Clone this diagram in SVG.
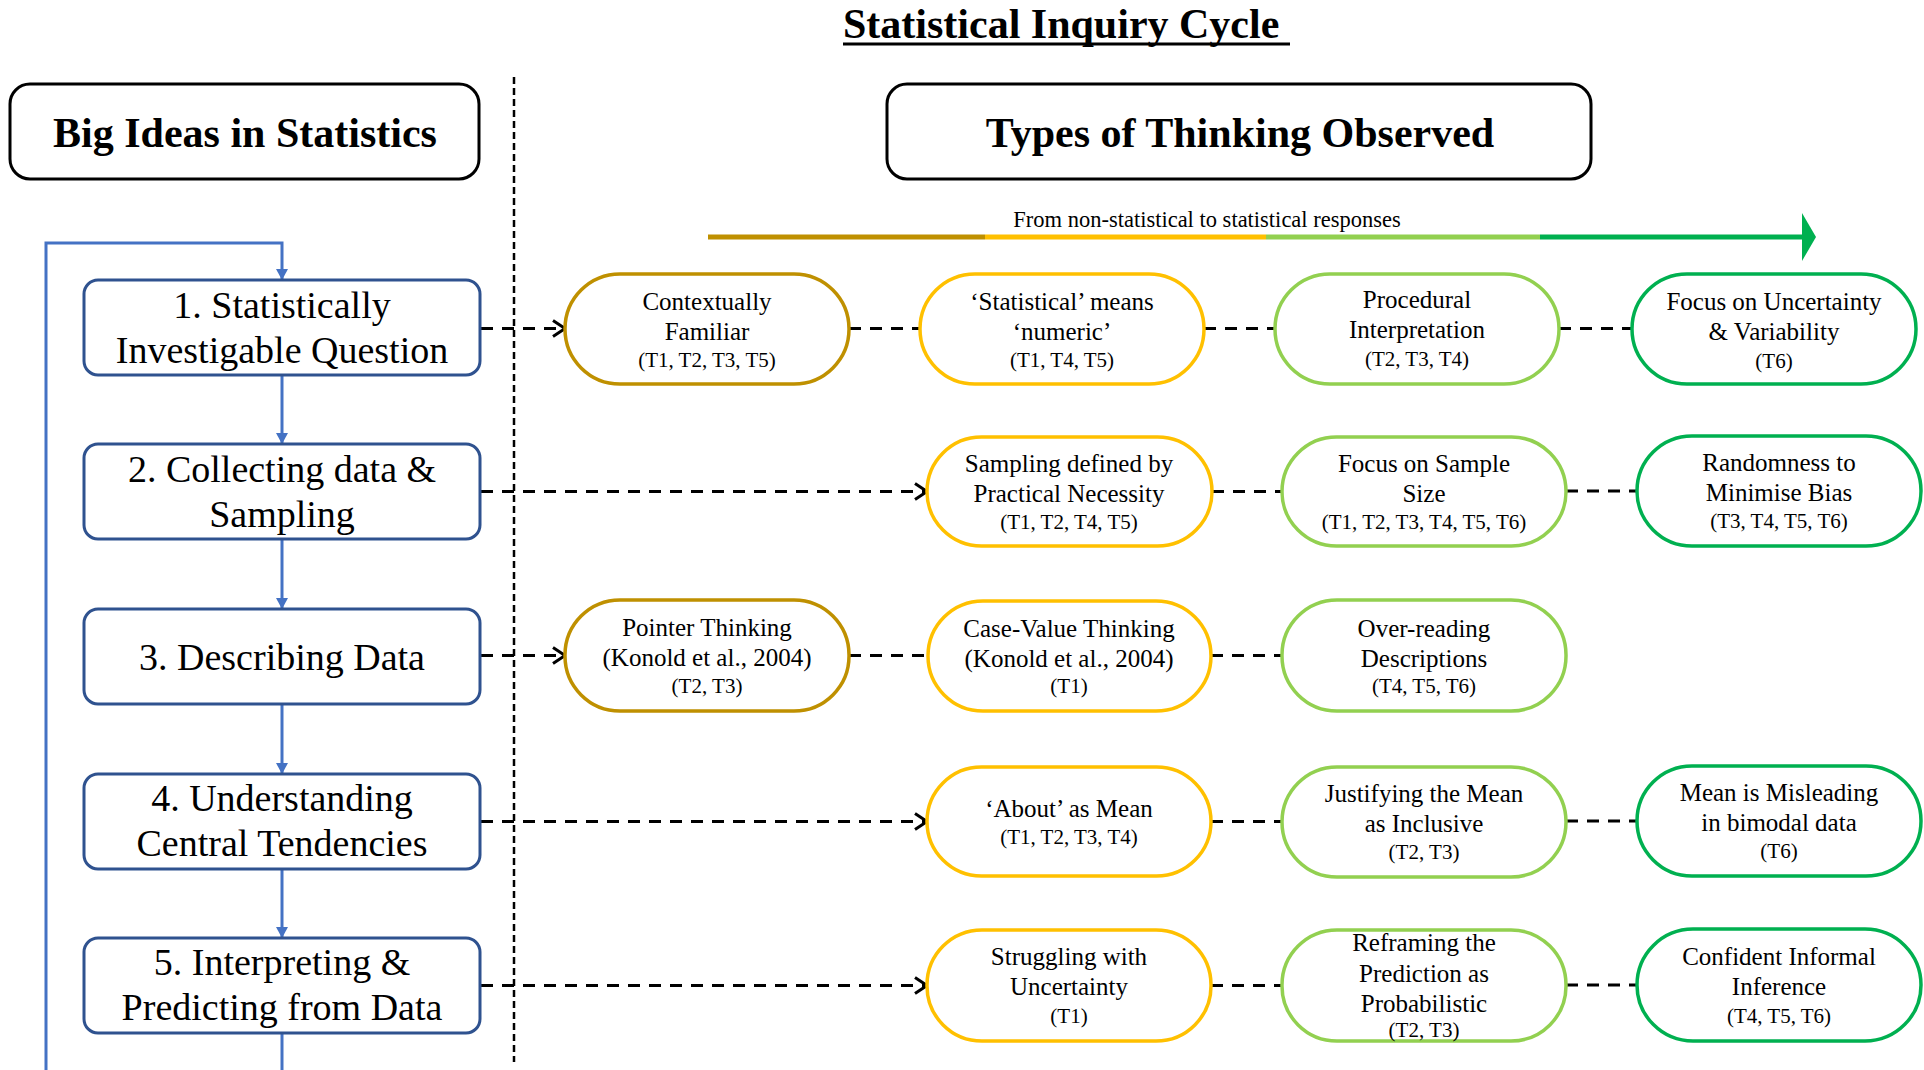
<svg xmlns="http://www.w3.org/2000/svg" width="1924" height="1070" viewBox="0 0 1924 1070">
<style>
text { font-family: "Liberation Serif", "Times New Roman", serif; fill:#000; }
.hdr { font-size:42px; font-weight:bold; text-anchor:middle; }
.title { font-size:42px; font-weight:bold; }
.sub { font-size:22.5px; text-anchor:middle; }
.step text { font-size:38px; text-anchor:middle; }
.pill text { font-size:25px; text-anchor:middle; }
.pill text.codes { font-size:21px; }
.bigbox { fill:#fff; stroke:#000; stroke-width:3; }
.stepbox { fill:#fff; stroke:#2F528F; stroke-width:3; }
.pill rect { fill:#fff; stroke-width:3.5; }
.cA rect { stroke:#BF9000; }
.cB rect { stroke:#FFC000; }
.cC rect { stroke:#92D050; }
.cD rect { stroke:#00B050; }
.dash { stroke:#000; stroke-width:3; stroke-dasharray:12 9; fill:none; }
.blue { stroke:#4472C4; stroke-width:3; fill:none; }
</style>
<defs>
<marker id="chev" markerUnits="userSpaceOnUse" viewBox="0 0 16 20" markerWidth="16" markerHeight="20" refX="14" refY="10" orient="auto">
<path d="M2,2 L14,10 L2,18" fill="none" stroke="#000" stroke-width="3" stroke-dasharray="none"/>
</marker>
<marker id="tri" markerUnits="userSpaceOnUse" viewBox="0 0 11 12" markerWidth="11" markerHeight="12" refX="11" refY="6" orient="auto">
<path d="M0,0 L11,6 L0,12 z" fill="#4472C4"/>
</marker>
</defs>
<rect width="1924" height="1070" fill="#fff"/>

<g id="title">
<text class="title" x="843" y="38">Statistical Inquiry Cycle</text>
<line x1="843" y1="44" x2="1290" y2="44" stroke="#000" stroke-width="3"/>
</g>

<g id="big-ideas">
<rect class="bigbox" x="10" y="84" width="469" height="95" rx="20"/>
<text class="hdr" x="245" y="147">Big Ideas in Statistics</text>
</g>

<g id="types-of-thinking">
<rect class="bigbox" x="887" y="84" width="704" height="95" rx="20"/>
<text class="hdr" x="1240" y="147">Types of Thinking Observed</text>
</g>

<g id="divider">
<line x1="514" y1="77" x2="514" y2="1062" stroke="#000" stroke-width="2.5" stroke-dasharray="7 4"/>
</g>

<g id="progress-scale">
<text class="sub" x="1207" y="227">From non-statistical to statistical responses</text>
<rect x="708" y="234.5" width="277" height="5" fill="#BF9000"/>
<rect x="985" y="234.5" width="281" height="5" fill="#FFC000"/>
<rect x="1266" y="234.5" width="274" height="5" fill="#92D050"/>
<rect x="1540" y="234.5" width="265" height="5" fill="#00B050"/>
<path d="M1802,213 L1816,237 L1802,261 z" fill="#00B050"/>
</g>

<g id="connectors">
<!-- blue cycle -->
<path class="blue" d="M46,1070 L46,243 L282,243 L282,280" marker-end="url(#tri)"/>
<line class="blue" x1="282" y1="375" x2="282" y2="444" marker-end="url(#tri)"/>
<line class="blue" x1="282" y1="539" x2="282" y2="609" marker-end="url(#tri)"/>
<line class="blue" x1="282" y1="704" x2="282" y2="774" marker-end="url(#tri)"/>
<line class="blue" x1="282" y1="869" x2="282" y2="938" marker-end="url(#tri)"/>
<line class="blue" x1="282" y1="1033" x2="282" y2="1070"/>
<!-- row 1 -->
<line class="dash" x1="481" y1="328.5" x2="565" y2="328.5" marker-end="url(#chev)"/>
<line class="dash" x1="849" y1="328.5" x2="920" y2="328.5"/>
<line class="dash" x1="1204" y1="328.5" x2="1275" y2="328.5"/>
<line class="dash" x1="1559" y1="328.5" x2="1632" y2="328.5"/>
<!-- row 2 -->
<line class="dash" x1="481" y1="491.5" x2="927" y2="491.5" marker-end="url(#chev)"/>
<line class="dash" x1="1212" y1="491.5" x2="1282" y2="491.5"/>
<line class="dash" x1="1566" y1="491" x2="1637" y2="491"/>
<!-- row 3 -->
<line class="dash" x1="481" y1="655.5" x2="565" y2="655.5" marker-end="url(#chev)"/>
<line class="dash" x1="849" y1="655.5" x2="928" y2="655.5"/>
<line class="dash" x1="1211" y1="655.5" x2="1282" y2="655.5"/>
<!-- row 4 -->
<line class="dash" x1="481" y1="821.5" x2="927" y2="821.5" marker-end="url(#chev)"/>
<line class="dash" x1="1211" y1="821.5" x2="1282" y2="821.5"/>
<line class="dash" x1="1566" y1="821" x2="1637" y2="821"/>
<!-- row 5 -->
<line class="dash" x1="481" y1="985.5" x2="927" y2="985.5" marker-end="url(#chev)"/>
<line class="dash" x1="1211" y1="985.5" x2="1282" y2="985.5"/>
<line class="dash" x1="1566" y1="985" x2="1637" y2="985"/>
</g>

<g id="step1" class="step">
<rect class="stepbox" x="84" y="280" width="396" height="95" rx="14"/>
<text x="282" y="318">1. Statistically</text>
<text x="282" y="363">Investigable Question</text>
</g>
<g id="step2" class="step">
<rect class="stepbox" x="84" y="444" width="396" height="95" rx="14"/>
<text x="282" y="482">2. Collecting data &amp;</text>
<text x="282" y="527">Sampling</text>
</g>
<g id="step3" class="step">
<rect class="stepbox" x="84" y="609" width="396" height="95" rx="14"/>
<text x="282" y="670">3. Describing Data</text>
</g>
<g id="step4" class="step">
<rect class="stepbox" x="84" y="774" width="396" height="95" rx="14"/>
<text x="282" y="811">4. Understanding</text>
<text x="282" y="856">Central Tendencies</text>
</g>
<g id="step5" class="step">
<rect class="stepbox" x="84" y="938" width="396" height="95" rx="14"/>
<text x="282" y="975">5. Interpreting &amp;</text>
<text x="282" y="1020">Predicting from Data</text>
</g>

<!-- Row 1 -->
<g id="contextually-familiar" class="pill cA">
<rect x="565" y="274" width="284" height="110" rx="55"/>
<text x="707" y="310">Contextually</text>
<text x="707" y="340">Familiar</text>
<text class="codes" x="707" y="367">(T1, T2, T3, T5)</text>
</g>
<g id="statistical-means-numeric" class="pill cB">
<rect x="920" y="274" width="284" height="110" rx="55"/>
<text x="1062" y="310">‘Statistical’ means</text>
<text x="1062" y="340">‘numeric’</text>
<text class="codes" x="1062" y="367">(T1, T4, T5)</text>
</g>
<g id="procedural-interpretation" class="pill cC">
<rect x="1275" y="274" width="284" height="110" rx="55"/>
<text x="1417" y="308">Procedural</text>
<text x="1417" y="338">Interpretation</text>
<text class="codes" x="1417" y="366">(T2, T3, T4)</text>
</g>
<g id="focus-uncertainty" class="pill cD">
<rect x="1632" y="274" width="284" height="110" rx="55"/>
<text x="1774" y="310">Focus on Uncertainty</text>
<text x="1774" y="340">&amp; Variability</text>
<text class="codes" x="1774" y="368">(T6)</text>
</g>

<!-- Row 2 -->
<g id="sampling-practical" class="pill cB">
<rect x="927" y="437" width="285" height="109" rx="54.5"/>
<text x="1069" y="471.5">Sampling defined by</text>
<text x="1069" y="501.5">Practical Necessity</text>
<text class="codes" x="1069" y="529">(T1, T2, T4, T5)</text>
</g>
<g id="focus-sample-size" class="pill cC">
<rect x="1282" y="437" width="284" height="109" rx="54.5"/>
<text x="1424" y="471.5">Focus on Sample</text>
<text x="1424" y="501.5">Size</text>
<text class="codes" x="1424" y="529">(T1, T2, T3, T4, T5, T6)</text>
</g>
<g id="randomness-bias" class="pill cD">
<rect x="1637" y="436" width="284" height="110" rx="55"/>
<text x="1779" y="471">Randomness to</text>
<text x="1779" y="501">Minimise Bias</text>
<text class="codes" x="1779" y="528">(T3, T4, T5, T6)</text>
</g>

<!-- Row 3 -->
<g id="pointer-thinking" class="pill cA">
<rect x="565" y="600" width="284" height="111" rx="55"/>
<text x="707" y="636">Pointer Thinking</text>
<text x="707" y="666">(Konold et al., 2004)</text>
<text class="codes" x="707" y="693">(T2, T3)</text>
</g>
<g id="case-value-thinking" class="pill cB">
<rect x="928" y="601" width="283" height="110" rx="55"/>
<text x="1069" y="637">Case-Value Thinking</text>
<text x="1069" y="667">(Konold et al., 2004)</text>
<text class="codes" x="1069" y="693">(T1)</text>
</g>
<g id="over-reading" class="pill cC">
<rect x="1282" y="600" width="284" height="111" rx="55"/>
<text x="1424" y="637">Over-reading</text>
<text x="1424" y="667">Descriptions</text>
<text class="codes" x="1424" y="693">(T4, T5, T6)</text>
</g>

<!-- Row 4 -->
<g id="about-as-mean" class="pill cB">
<rect x="927" y="767" width="284" height="109" rx="54.5"/>
<text x="1069" y="817">‘About’ as Mean</text>
<text class="codes" x="1069" y="844">(T1, T2, T3, T4)</text>
</g>
<g id="justifying-mean" class="pill cC">
<rect x="1282" y="767" width="284" height="110" rx="55"/>
<text x="1424" y="802">Justifying the Mean</text>
<text x="1424" y="832">as Inclusive</text>
<text class="codes" x="1424" y="859">(T2, T3)</text>
</g>
<g id="mean-misleading" class="pill cD">
<rect x="1637" y="766" width="284" height="110" rx="55"/>
<text x="1779" y="801">Mean is Misleading</text>
<text x="1779" y="831">in bimodal data</text>
<text class="codes" x="1779" y="858">(T6)</text>
</g>

<!-- Row 5 -->
<g id="struggling-uncertainty" class="pill cB">
<rect x="927" y="930" width="284" height="111" rx="55"/>
<text x="1069" y="965">Struggling with</text>
<text x="1069" y="995">Uncertainty</text>
<text class="codes" x="1069" y="1023">(T1)</text>
</g>
<g id="reframing-prediction" class="pill cC">
<rect x="1282" y="930" width="284" height="111" rx="55"/>
<text x="1424" y="951">Reframing the</text>
<text x="1424" y="982">Prediction as</text>
<text x="1424" y="1012">Probabilistic</text>
<text class="codes" x="1424" y="1037">(T2, T3)</text>
</g>
<g id="confident-inference" class="pill cD">
<rect x="1637" y="929" width="284" height="112" rx="56"/>
<text x="1779" y="965">Confident Informal</text>
<text x="1779" y="995">Inference</text>
<text class="codes" x="1779" y="1023">(T4, T5, T6)</text>
</g>
</svg>
